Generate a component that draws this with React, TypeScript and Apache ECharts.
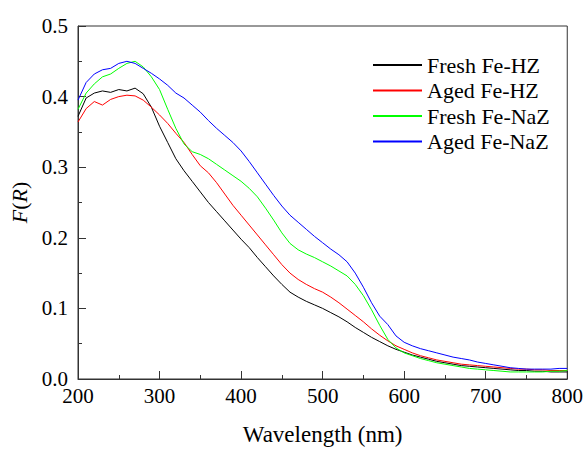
import React, { useEffect, useRef } from "react";
import * as echarts from "echarts";

const wavelengths: number[] = [];
for (let w = 200; w <= 800; w += 10) wavelengths.push(w);

const freshFeHZ = [
  0.372, 0.398, 0.405, 0.408, 0.406, 0.41, 0.408, 0.412, 0.404, 0.385,
  0.358, 0.335, 0.312, 0.295, 0.28, 0.265, 0.25, 0.237, 0.224, 0.211,
  0.198, 0.186, 0.172, 0.159, 0.146, 0.134, 0.123, 0.116, 0.11, 0.105,
  0.1, 0.094, 0.088, 0.081, 0.073, 0.066, 0.059, 0.053, 0.047, 0.042,
  0.038, 0.034, 0.031, 0.028, 0.025, 0.023, 0.021, 0.019, 0.018, 0.017,
  0.016, 0.015, 0.014, 0.013, 0.012, 0.012, 0.011, 0.011, 0.01, 0.01, 0.01,
];
const agedFeHZ = [
  0.364, 0.383, 0.393, 0.388, 0.396, 0.4, 0.402, 0.401, 0.395, 0.385,
  0.374, 0.362, 0.348, 0.335, 0.318, 0.302, 0.292, 0.278, 0.262, 0.246,
  0.232, 0.218, 0.204, 0.19, 0.176, 0.162, 0.15, 0.141, 0.134, 0.128,
  0.123, 0.116, 0.108, 0.099, 0.09, 0.081, 0.071, 0.062, 0.054, 0.047,
  0.042, 0.037, 0.033, 0.03, 0.027, 0.025, 0.023, 0.021, 0.02, 0.019,
  0.018, 0.017, 0.016, 0.015, 0.014, 0.014, 0.013, 0.013, 0.012, 0.012, 0.012,
];
const freshFeNaZ = [
  0.382, 0.405, 0.418, 0.428, 0.432, 0.44, 0.447, 0.45, 0.442, 0.428,
  0.41, 0.382, 0.355, 0.333, 0.322, 0.318, 0.312, 0.304, 0.296, 0.288,
  0.28, 0.27, 0.258, 0.242, 0.225, 0.207, 0.192, 0.183, 0.177, 0.172,
  0.166, 0.16, 0.153, 0.146, 0.134, 0.118, 0.098, 0.076, 0.056, 0.044,
  0.037, 0.033, 0.029, 0.026, 0.023, 0.021, 0.019, 0.017, 0.015, 0.014,
  0.013, 0.012, 0.011, 0.01, 0.01, 0.01, 0.01, 0.01, 0.011, 0.011, 0.012,
];
const agedFeNaZ = [
  0.395, 0.42, 0.432, 0.438, 0.44, 0.447, 0.45, 0.447, 0.44, 0.433,
  0.425, 0.416, 0.405, 0.398, 0.388, 0.378, 0.366, 0.355, 0.345, 0.335,
  0.323, 0.308, 0.292, 0.276, 0.26, 0.245, 0.232, 0.222, 0.212, 0.202,
  0.193, 0.184, 0.176, 0.166, 0.15, 0.13, 0.108, 0.089, 0.077, 0.061,
  0.052, 0.047, 0.043, 0.04, 0.037, 0.034, 0.031, 0.029, 0.027, 0.024,
  0.022, 0.02, 0.018, 0.016, 0.015, 0.014, 0.014, 0.014, 0.014, 0.015, 0.015,
];

const seriesNames = ["Fresh Fe-HZ", "Aged Fe-HZ", "Fresh Fe-NaZ", "Aged Fe-NaZ"];
const seriesColors = ["#000000", "#ff0000", "#00ff00", "#0000ff"];
const seriesValues = [freshFeHZ, agedFeHZ, freshFeNaZ, agedFeNaZ];

const FONT = "Liberation Serif";

export default function App() {
  const ref = useRef<HTMLDivElement>(null);
  useEffect(() => {
    document.body.style.margin = "0";
    const chart = echarts.init(ref.current!, null, { renderer: "svg" });
    chart.setOption({
      animation: false,
      backgroundColor: "#ffffff",
      textStyle: { fontFamily: FONT },
      grid: {
        left: 78,
        right: 17,
        top: 26,
        bottom: 62,
        show: true,
        borderColor: "#333",
        borderWidth: 1,
        backgroundColor: "transparent",
      },
      legend: {
        orient: "vertical",
        left: 372,
        top: 54,
        padding: 0,
        itemWidth: 49,
        itemHeight: 14,
        itemGap: 3.5,
        itemStyle: { opacity: 0 },
        data: seriesNames,
        textStyle: { fontFamily: FONT, fontSize: 22, color: "#000" },
      },
      xAxis: {
        type: "value",
        min: 200,
        max: 800,
        interval: 100,
        name: "Wavelength (nm)",
        nameLocation: "middle",
        nameGap: 44,
        nameTextStyle: { fontFamily: FONT, fontSize: 23, color: "#000" },
        axisLine: { show: true, lineStyle: { color: "#333", width: 1 } },
        axisTick: { show: true, inside: true, length: 8, lineStyle: { color: "#333" } },
        minorTick: { show: true, splitNumber: 2, length: 4, lineStyle: { color: "#333" } },
        splitLine: { show: false },
        axisLabel: { fontFamily: FONT, fontSize: 21, color: "#000", margin: 6 },
      },
      yAxis: {
        type: "value",
        min: 0,
        max: 0.5,
        interval: 0.1,
        name: "{i|F}(" + "{i|R})",
        nameLocation: "middle",
        nameGap: 36,
        nameRotate: 90,
        nameTextStyle: {
          fontFamily: FONT,
          fontSize: 22,
          color: "#000",
          rich: { i: { fontFamily: FONT, fontSize: 22, fontStyle: "italic", color: "#000" } },
        },
        axisLine: { show: true, lineStyle: { color: "#333", width: 1 } },
        axisTick: { show: true, inside: true, length: 8, lineStyle: { color: "#333" } },
        minorTick: { show: true, splitNumber: 2, length: 4, lineStyle: { color: "#333" } },
        splitLine: { show: false },
        axisLabel: {
          fontFamily: FONT,
          fontSize: 21,
          color: "#000",
          margin: 10,
          formatter: (v: number) => v.toFixed(1),
        },
      },
      series: seriesValues.map((vals, i) => ({
        type: "line",
        name: seriesNames[i],
        symbol: "none",
        color: seriesColors[i],
        lineStyle: { color: seriesColors[i], width: 1 },
        data: wavelengths.map((w, j) => [w, vals[j]]),
      })),
    });
    return () => chart.dispose();
  }, []);
  return <div ref={ref} style={{ width: 586, height: 451 }} />;
}
